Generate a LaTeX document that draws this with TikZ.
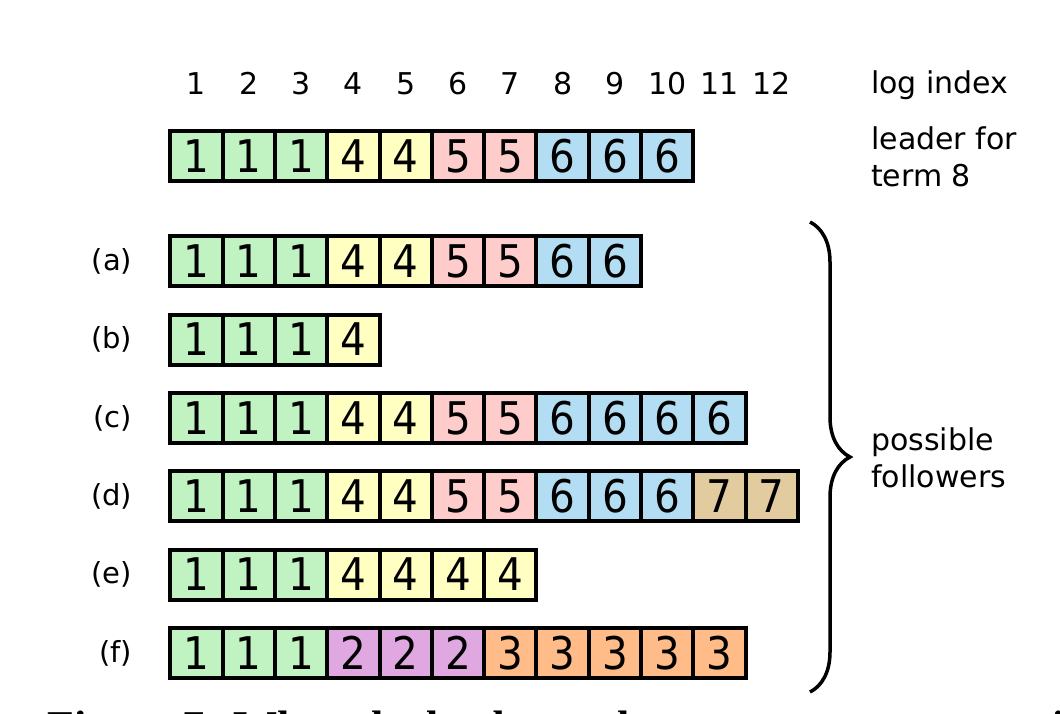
\documentclass[tikz,border=0pt]{standalone}
\usepackage{fontspec}
\setmainfont{DejaVu Sans}
\newfontfamily\cellfont[FakeStretch=0.9]{DejaVu Sans}
\newfontfamily\capfont{Liberation Serif}
\usepackage{tikz}
\usetikzlibrary{positioning,decorations.pathreplacing}
\usepackage{xcolor}

\definecolor{term1}{RGB}{193,242,193}
\definecolor{term2}{RGB}{224,168,224}
\definecolor{term3}{RGB}{255,187,136}
\definecolor{term4}{RGB}{255,255,194}
\definecolor{term5}{RGB}{255,204,204}
\definecolor{term6}{RGB}{179,221,242}
\definecolor{term7}{RGB}{227,203,160}

\begin{document}
\begin{tikzpicture}[
  x=1pt, y=-1pt,
  cell/.style={rectangle, draw=black, line width=4pt, minimum width=52.3pt,
               minimum height=50pt, inner sep=0pt, outer sep=0pt,
               font=\cellfont\fontsize{45}{45}\selectfont},
  idx/.style={inner sep=0pt, font=\fontsize{30}{36}\selectfont},
  rowlabel/.style={inner sep=0pt, font=\fontsize{29}{34}\selectfont},
  note/.style={anchor=west, align=left, inner sep=0pt,
               font=\fontsize{30}{37}\selectfont},
  brc/.style={line width=3.5pt, decorate,
              decoration={brace, amplitude=40pt, aspect=0.5}}
]
  \useasboundingbox (0,0) rectangle (1060,714);

  % log index
  \foreach \i in {1,...,12}
    \node[idx] (ix-\i) at ({196.5+52.3*(\i-1)}, 83.5) {\i};
  \node[note] (logidx) at (871, 85) {log index};

  % leader and followers
  \foreach \r/\y/\terms in {L/156/{1,1,1,4,4,5,5,6,6,6},
                            a/261/{1,1,1,4,4,5,5,6,6},
                            b/339.5/{1,1,1,4},
                            c/418/{1,1,1,4,4,5,5,6,6,6,6},
                            d/496/{1,1,1,4,4,5,5,6,6,6,7,7},
                            e/574.5/{1,1,1,4,4,4,4},
                            f/653/{1,1,1,2,2,2,3,3,3,3,3}} {
    \foreach \t [count=\i] in \terms
      \node[cell, fill=term\t] (\r-\i) at ({196.5+52.3*(\i-1)}, \y) {\t};
  }
  \node[note] (leadnote) at (871, 157) {leader for\\term 8};

  % row labels
  \foreach \r in {a,b,c,d,e,f}
    \node[rowlabel, left=38pt of \r-1] (lbl-\r) {(\r)};

  % brace
  \coordinate (brTop) at (810, 222);
  \coordinate (brBot) at (810, 692);
  \draw[brc] (brTop) -- (brBot);
  \node[note] (follnote) at (871, 458) {possible\\followers};

  % caption, only its top shows above the page edge
  \node[anchor=base west, inner sep=0pt,
        font=\capfont\bfseries\fontsize{44}{50}\selectfont] (caption)
    at (47, 741) {Figure 7: When the leader at the top comes to power, it is possible};
\end{tikzpicture}
\end{document}
